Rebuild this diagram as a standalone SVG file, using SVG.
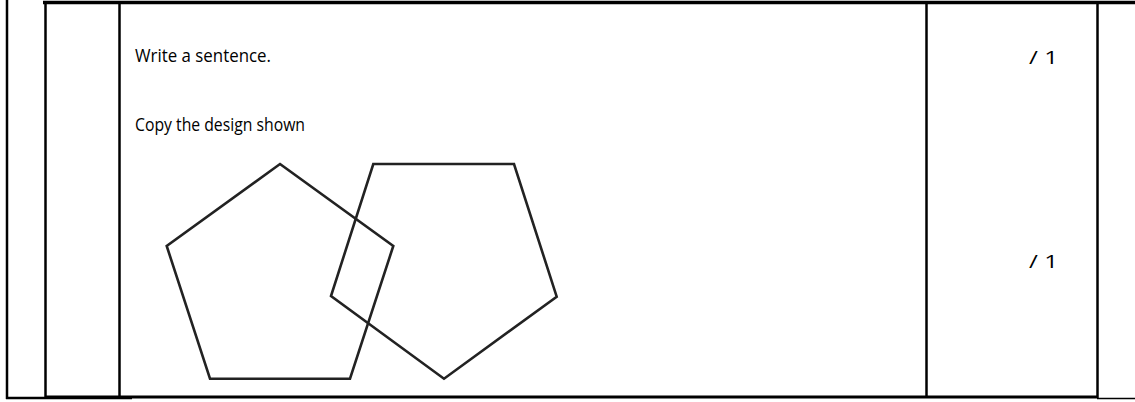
<svg xmlns="http://www.w3.org/2000/svg" width="1135" height="402" viewBox="0 0 1135 402">
<style>
.b{stroke:#000;fill:none}
.t{font-family:"Open Sans","Liberation Sans",sans-serif;font-size:18.5px;fill:#000}
.p{fill:none;stroke:#222;stroke-width:2.6;stroke-linejoin:miter}
</style>
<rect width="1135" height="402" fill="#fff"/>
<g id="table">
<line class="b" x1="43" y1="2.5" x2="1135" y2="2.5" stroke-width="3.5"/>
<line class="b" x1="7" y1="0" x2="7" y2="399" stroke-width="2.5"/>
<line class="b" x1="45.5" y1="2" x2="45.5" y2="397" stroke-width="2.5"/>
<line class="b" x1="119.5" y1="2" x2="119.5" y2="397" stroke-width="2.5"/>
<line class="b" x1="926.5" y1="2" x2="926.5" y2="397" stroke-width="2.5"/>
<line class="b" x1="1097.5" y1="2" x2="1097.5" y2="398" stroke-width="2.5"/>
<line class="b" x1="6" y1="398" x2="132" y2="398" stroke-width="2.5"/>
<line class="b" x1="45" y1="397" x2="132" y2="397" stroke-width="3"/>
<line class="b" x1="132" y1="397" x2="1097" y2="397" stroke-width="3"/>
<line class="b" x1="1097" y1="398.5" x2="1135" y2="398.5" stroke-width="1.5"/>
</g>
<g id="texts">
<text class="t" x="135" y="62" textLength="136" lengthAdjust="spacingAndGlyphs">Write a sentence.</text>
<text class="t" x="135" y="131" textLength="170" lengthAdjust="spacingAndGlyphs">Copy the design shown</text>
<text class="t" x="1029" y="64" textLength="29" lengthAdjust="spacingAndGlyphs">/ 1</text>
<text class="t" x="1029" y="268" textLength="29" lengthAdjust="spacingAndGlyphs">/ 1</text>
</g>
<g id="pentagon-left">
<polygon class="p" points="280,164 393.3,246 350,378.7 210,378.7 166.7,246"/>
</g>
<g id="pentagon-right">
<polygon class="p" points="373.3,164 514,164 556.7,296.7 444,378.7 331,296"/>
</g>
</svg>
